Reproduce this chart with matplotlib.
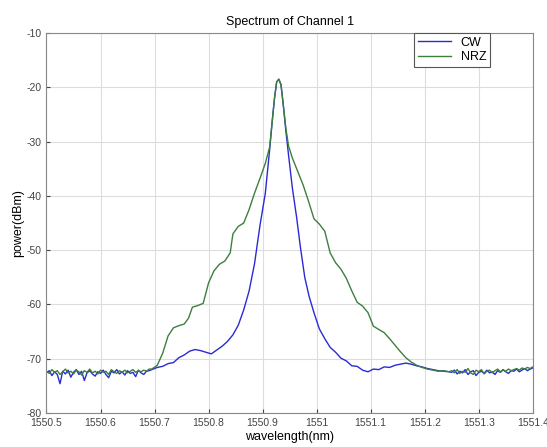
import numpy as np
import matplotlib
matplotlib.use("Agg")
import matplotlib.pyplot as plt

plt.rcParams['font.family'] = ['Liberation Sans', 'DejaVu Sans']
plt.rcParams['axes.unicode_minus'] = False

# flat noise floor, left and right of the carrier
wl_left = np.round(np.arange(1550.500, 1550.6901, 0.005), 3)
wl_right = np.round(np.arange(1551.250, 1551.4001, 0.005), 3)

cw_left = [-72.6, -72.2, -73.1, -72.4, -72.9, -74.6, -72.3, -72.8, -72.1, -73.4,
           -72.5, -72.0, -72.9, -72.3, -74.0, -72.6, -72.2, -72.8, -73.2, -72.4,
           -72.7, -72.1, -72.9, -73.5, -72.3, -72.6, -72.0, -72.8, -72.4, -73.0,
           -72.2, -72.7, -72.5, -73.3, -72.1, -72.6, -72.9, -72.3, -72.2]
nrz_left = [-72.3, -72.7, -72.0, -72.5, -72.2, -72.9, -72.4, -71.9, -72.6, -72.3,
            -72.8, -72.1, -72.4, -73.0, -72.2, -72.5, -71.9, -72.6, -72.3, -72.8,
            -72.1, -72.5, -72.3, -72.9, -72.0, -72.4, -72.7, -72.2, -72.5, -72.1,
            -72.6, -72.3, -72.0, -72.5, -72.2, -72.4, -72.1, -72.3, -71.9]

cw_right = [-72.5, -72.1, -72.8, -72.3, -72.6, -72.0, -72.9, -72.4, -72.2, -73.1,
            -72.5, -72.3, -72.7, -72.1, -72.6, -72.4, -72.9, -72.2, -72.5, -72.0,
            -72.4, -72.7, -72.2, -72.3, -71.9, -72.4, -72.1, -71.8, -72.2, -71.9,
            -71.7]
nrz_right = [-72.2, -72.6, -72.0, -72.7, -72.3, -72.5, -71.8, -72.6, -72.9, -72.1,
             -72.4, -72.0, -72.8, -72.3, -72.1, -72.6, -72.2, -71.9, -72.4, -72.1,
             -72.3, -71.9, -72.2, -72.0, -71.8, -72.1, -71.7, -71.9, -71.6, -71.8,
             -71.5]

# CW carrier
cw_mid_wl = [1550.695, 1550.705, 1550.715, 1550.725, 1550.735, 1550.745, 1550.755,
             1550.765, 1550.775, 1550.785, 1550.795, 1550.805, 1550.815, 1550.825,
             1550.835, 1550.845, 1550.855, 1550.865, 1550.875, 1550.885, 1550.895,
             1550.905, 1550.913, 1550.918, 1550.922, 1550.926, 1550.930, 1550.934,
             1550.938, 1550.943, 1550.948, 1550.955, 1550.963, 1550.970, 1550.978,
             1550.986, 1550.995, 1551.005, 1551.015, 1551.025, 1551.035, 1551.045,
             1551.055, 1551.065, 1551.075, 1551.085, 1551.095, 1551.105, 1551.115,
             1551.125, 1551.135, 1551.145, 1551.155, 1551.165, 1551.175, 1551.185,
             1551.195, 1551.205, 1551.215, 1551.225, 1551.235, 1551.245]
cw_mid = [-72.0, -71.6, -71.4, -70.9, -70.7, -69.8, -69.3, -68.6, -68.3, -68.5,
          -68.8, -69.1, -68.4, -67.7, -66.8, -65.6, -63.8, -61.0, -57.5, -52.5,
          -45.5, -39.5, -31.5, -26.0, -22.0, -19.0, -18.5, -19.5, -23.0, -28.0,
          -32.5, -38.5, -44.0, -49.5, -55.0, -58.5, -61.5, -64.5, -66.3, -67.9,
          -68.8, -69.9, -70.4, -71.3, -71.4, -72.1, -72.4, -71.9, -72.0, -71.5,
          -71.6, -71.2, -71.0, -70.8, -71.0, -71.3, -71.5, -71.8, -72.0, -72.2,
          -72.3, -72.4]

# NRZ modulated
nrz_mid_wl = [1550.695, 1550.705, 1550.715, 1550.725, 1550.735, 1550.745, 1550.755,
              1550.763, 1550.770, 1550.780, 1550.790, 1550.800, 1550.810, 1550.820,
              1550.830, 1550.840, 1550.845, 1550.855, 1550.865, 1550.875, 1550.885,
              1550.895, 1550.905, 1550.913, 1550.918, 1550.922, 1550.926, 1550.930,
              1550.934, 1550.938, 1550.943, 1550.948, 1550.955, 1550.965, 1550.975,
              1550.985, 1550.995, 1551.005, 1551.015, 1551.025, 1551.035, 1551.045,
              1551.055, 1551.065, 1551.075, 1551.085, 1551.095, 1551.105, 1551.115,
              1551.125, 1551.135, 1551.145, 1551.155, 1551.165, 1551.175, 1551.185,
              1551.195, 1551.205, 1551.215, 1551.225, 1551.235, 1551.245]
nrz_mid = [-71.9, -71.2, -69.0, -65.8, -64.3, -63.9, -63.6, -62.5, -60.5, -60.2,
           -59.8, -56.0, -53.8, -52.6, -52.0, -50.5, -47.0, -45.6, -45.0, -42.5,
           -39.5, -36.8, -34.0, -31.0, -26.0, -22.0, -19.0, -18.5, -19.5, -23.0,
           -27.5, -30.8, -33.0, -35.5, -38.0, -41.0, -44.2, -45.2, -46.5, -50.5,
           -52.3, -53.5, -55.2, -57.5, -59.6, -60.3, -61.5, -64.0, -64.6, -65.2,
           -66.3, -67.5, -68.7, -69.8, -70.6, -71.2, -71.6, -71.9, -72.1, -72.3,
           -72.2, -72.4]

cw_wl = np.concatenate([wl_left, cw_mid_wl, wl_right])
cw_pw = np.concatenate([cw_left, cw_mid, cw_right])
nrz_wl = np.concatenate([wl_left, nrz_mid_wl, wl_right])
nrz_pw = np.concatenate([nrz_left, nrz_mid, nrz_right])

xticks = [1550.5, 1550.6, 1550.7, 1550.8, 1550.9, 1551.0, 1551.1, 1551.2, 1551.3, 1551.4]
xlabels = ['1550.5', '1550.6', '1550.7', '1550.8', '1550.9', '1551', '1551.1',
           '1551.2', '1551.3', '1551.4']
yticks = [-80, -70, -60, -50, -40, -30, -20, -10]

fig = plt.figure(figsize=(5.47, 4.47), dpi=100)
ax = fig.add_axes([0.085, 0.076, 0.889, 0.850])

ax.plot(cw_wl, cw_pw, color='#2a2ad6', lw=1.0, label='CW')
ax.plot(nrz_wl, nrz_pw, color='#3d7f3d', lw=1.0, label='NRZ')

ax.set_xlim(1550.5, 1551.4)
ax.set_ylim(-80, -10)
ax.set_xticks(xticks)
ax.set_xticklabels(xlabels)
ax.set_yticks(yticks)
ax.tick_params(direction='in', labelsize=7.5, colors='#444444', length=3)
ax.grid(True, color='#dddddd', lw=0.8)
for s in ax.spines.values():
    s.set_color('#888888')

ax.set_title('Spectrum of Channel 1', fontsize=9, pad=6)
ax.set_xlabel('wavelength(nm)', fontsize=9, labelpad=2)
ax.set_ylabel('power(dBm)', fontsize=9, labelpad=2)

leg = ax.legend(loc='upper right', bbox_to_anchor=(0.912, 1.0), borderaxespad=0,
                fancybox=False, fontsize=9, handlelength=2.6, framealpha=1,
                borderpad=0.3, labelspacing=0.2)
leg.get_frame().set_edgecolor('#555555')
leg.get_frame().set_linewidth(0.8)

fig.savefig('out.png', dpi=100)
